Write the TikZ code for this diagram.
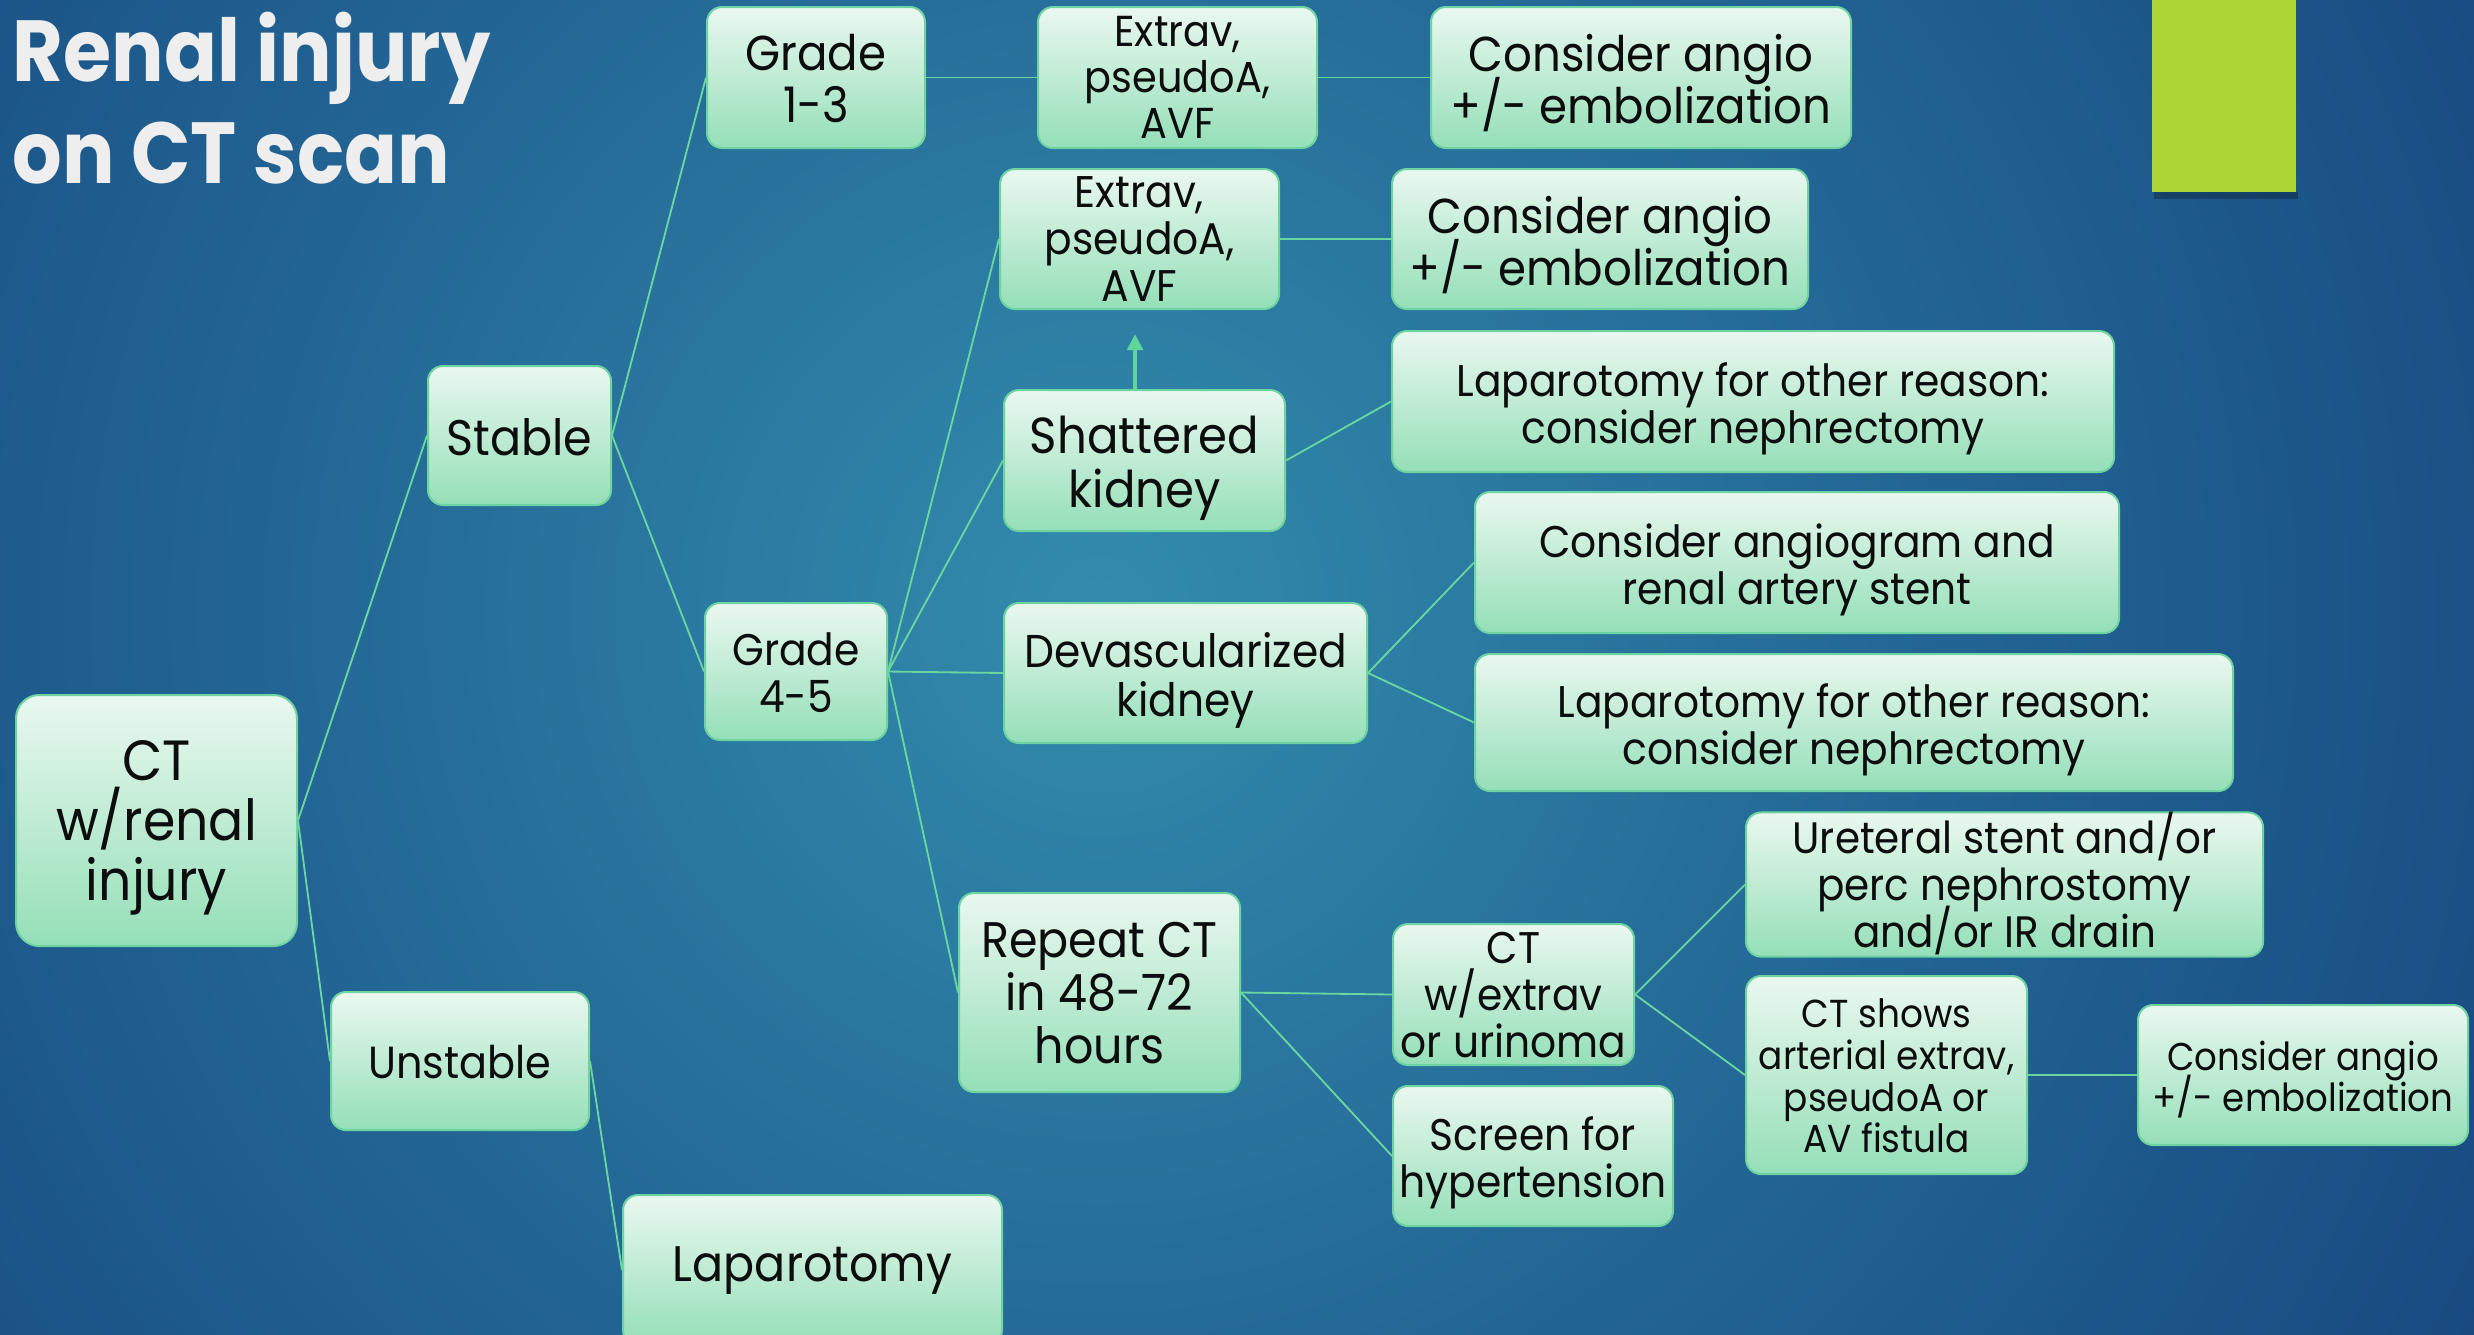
\documentclass[tikz,border=0pt]{standalone}
\usepackage{fontspec}
\setmainfont{Poppins}[FakeStretch=0.92]
\newfontfamily\titlefont{Poppins}[FakeStretch=0.9]
\usetikzlibrary{arrows.meta}
\definecolor{bgdark}{RGB}{12,42,104}
\definecolor{bgmidA}{RGB}{50,140,172}
\definecolor{bgmidB}{RGB}{34,100,148}
\definecolor{boxtop}{HTML}{EAF8F0}
\definecolor{boxbot}{HTML}{94DFB8}
\definecolor{boxedge}{HTML}{6ED3A0}
\definecolor{linecol}{HTML}{6BD6A0}
\definecolor{arrcol}{HTML}{5FD49B}
\definecolor{titlecol}{HTML}{EEEEEE}
\definecolor{accent}{HTML}{ADD535}
\newcommand\fsz[2]{\fontsize{#1pt}{#2pt}\selectfont}
% #1 = number of lines minus one, #2 = font size, #3 = line skip, #4 = lines separated by \cr
\newcommand\tb[4]{\fontsize{#2pt}{#3pt}\selectfont\lineskiplimit=-\maxdimen\lineskip=0pt
  \setbox0=\vbox{\halign{\hfil##\hfil\cr#4\crcr}}\dp0=0pt
  \ht0=\dimexpr #3pt*#1 + #2pt*7/10\relax\box0}
\pgfdeclareradialshading{bgshade}{\pgfpoint{0bp}{0bp}}{color(0bp)=(bgmidA); color(9bp)=(bgmidB); color(25bp)=(bgdark); color(50bp)=(bgdark)}
\tikzset{
  box/.style={draw=boxedge, line width=0.6pt, rounded corners=4.5pt, top color=boxtop, bottom color=boxbot, inner sep=0pt, text=black!95},
  sz/.style 2 args={minimum width=#1*0.3pt, minimum height=#2*0.3pt},
  conn/.style={draw=linecol, line width=0.55pt},
}
\begin{document}
\begin{tikzpicture}[x=0.3pt,y=-0.3pt]
\useasboundingbox (0,0) rectangle (2474,1334);
\clip (0,0) rectangle (2474,1334);
% background
\fill[bgdark] (0,0) rectangle (2474,1334);
\shade[shading=bgshade] (1100,610) circle (2400);
% accent square
\fill[black,opacity=0.25] (2154,192) rectangle (2298,199);
\fill[accent] (2152,0) rectangle (2296,192);
% title
\node[anchor=base west, inner sep=0pt, font=\titlefont\bfseries\fsz{26}{30}, text=titlecol] (title1) at (12,81) {Renal injury};
\node[anchor=base west, inner sep=0pt, font=\titlefont\bfseries\fsz{26}{30}, text=titlecol] (title2) at (12,183) {on CT scan};
% boxes
\node[box, rounded corners=7pt, sz={281}{251}] (ct) at (156.5,820.5) {\tb{2}{17}{18}{CT\cr w/renal\cr injury}};
\node[box, sz={183}{139}] (stable) at (519.5,435.5) {\tb{0}{15}{16}{Stable}};
\node[box, sz={258}{138}] (unstable) at (460,1061) {\tb{0}{13.5}{14.5}{Unstable}};
\node[box, sz={379}{150}] (lap) at (812.5,1270) {\tb{0}{15}{16}{Laparotomy}\rule[-3.6pt]{0pt}{0pt}};
\node[box, sz={218}{141}] (g13) at (816,77.5) {\tb{1}{14.7}{15.6}{Grade\cr 1-3}};
\node[box, sz={279}{141}] (ext1) at (1177.5,77.5) {\tb{2}{13}{13.8}{Extrav,\cr pseudoA,\cr AVF}};
\node[box, sz={420}{141}] (cons1) at (1641,77.5) {\tb{1}{14.7}{15.6}{Consider angio\cr +/- embolization}};
\node[box, sz={279}{140}] (ext2) at (1139.5,239) {\tb{2}{13.3}{14.1}{Extrav,\cr pseudoA,\cr AVF}};
\node[box, sz={416}{140}] (cons2) at (1600,239) {\tb{1}{14.7}{15.6}{Consider angio\cr +/- embolization}};
\node[box, sz={281}{141}] (shat) at (1144.5,460.5) {\tb{1}{15.2}{16.2}{Shattered\cr kidney}};
\node[box, sz={722}{141}] (lap1) at (1753,401.5) {\tb{1}{13.3}{14.1}{Laparotomy for other reason:\cr consider nephrectomy}};
\node[box, sz={182}{137}] (g45) at (796,671.5) {\tb{1}{13.3}{14.1}{Grade\cr 4-5}};
\node[box, sz={363}{140}] (dev) at (1185.5,673) {\tb{1}{13.8}{14.7}{Devascularized\cr kidney}};
\node[box, sz={644}{141}] (stent) at (1797,562.5) {\tb{1}{13.3}{14.1}{Consider angiogram and\cr renal artery stent}};
\node[box, sz={758}{137}] (lap2) at (1854,722.5) {\tb{1}{13.3}{14.1}{Laparotomy for other reason:\cr consider nephrectomy}};
\node[box, sz={281}{199}] (rep) at (1099.5,992.5) {\tb{2}{15}{15.9}{Repeat CT\cr in 48-72\cr hours}};
\node[box, sz={241}{141}] (ctx) at (1513.5,994.5) {\tb{2}{13.3}{14.1}{CT\cr w/extrav\cr or urinoma}};
\node[box, sz={280}{140}] (scr) at (1533,1156) {\tb{1}{13.3}{14.1}{Screen for\cr hypertension}};
\node[box, sz={517}{141}] (ure) at (2004.5,884.5) {\tb{2}{13.2}{14}{Ureteral stent and/or\cr perc nephrostomy\cr and/or IR drain}\rule[-6pt]{0pt}{0pt}};
\node[box, sz={281}{198}] (cts) at (1886.5,1075) {\tb{3}{11.7}{12.5}{CT shows\cr arterial extrav,\cr pseudoA or\cr AV fistula}};
\node[box, sz={330}{140}] (cons3) at (2303,1075) {\tb{1}{11.6}{12.3}{Consider angio\cr +/- embolization}};
% connectors
\draw[conn] (ct.east) -- (stable.west);
\draw[conn] (ct.east) -- (unstable.west);
\draw[conn] (unstable.east) -- (lap.west);
\draw[conn] (stable.east) -- (g13.west);
\draw[conn] (stable.east) -- (g45.west);
\draw[conn] (g13.east) -- (ext1.west);
\draw[conn] (ext1.east) -- (cons1.west);
\draw[conn] (g45.east) -- (ext2.west);
\draw[conn] (g45.east) -- (shat.west);
\draw[conn] (g45.east) -- (dev.west);
\draw[conn] (g45.east) -- (rep.west);
\draw[conn] (ext2.east) -- (cons2.west);
\draw[conn] (shat.east) -- (lap1.west);
\draw[conn] (dev.east) -- (stent.west);
\draw[conn] (dev.east) -- (lap2.west);
\draw[conn] (rep.east) -- (ctx.west);
\draw[conn] (rep.east) -- (scr.west);
\draw[conn] (ctx.east) -- (ure.west);
\draw[conn] (ctx.east) -- (cts.west);
\draw[conn] (cts.east) -- (cons3.west);
\coordinate (arrtip) at (1135,334);
\draw[draw=arrcol, line width=1.3pt, -{Triangle[length=4.8pt,width=4.6pt]}] (arrtip |- shat.north) -- (arrtip);
\end{tikzpicture}
\end{document}
